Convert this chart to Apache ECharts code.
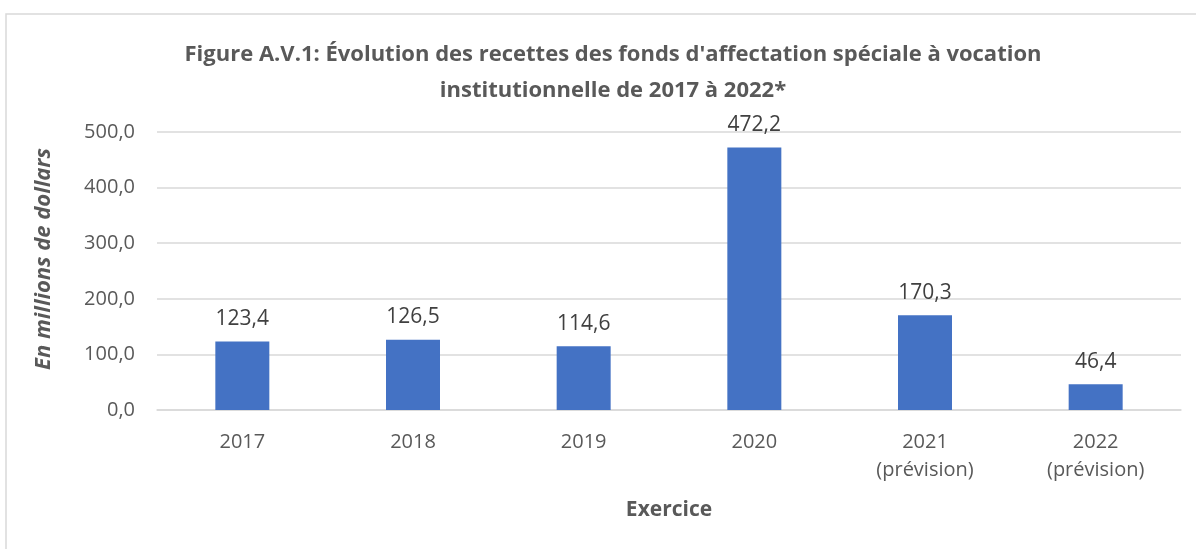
<!DOCTYPE html>
<html>
<head>
<meta charset="utf-8">
<script src="https://cdn.jsdelivr.net/npm/echarts@6/dist/echarts.min.js"></script>
<style>
  html, body { margin: 0; padding: 0; background: #fff; }
  #chart { width: 1196px; height: 549px; }
</style>
</head>
<body>
<div id="chart"></div>
<script>
// données
const categories = ["2017", "2018", "2019", "2020", "2021\n(prévision)", "2022\n(prévision)"];
const recettes = [123.4, 126.5, 114.6, 472.2, 170.3, 46.4];
const yTicks = [0, 100, 200, 300, 400, 500];

const font = "'Open Sans', 'Noto Sans', sans-serif";
const fmt = (v) => v.toFixed(1).replace(".", ",");

const mChart = echarts.init(document.getElementById("chart"));

const options = {
  animation: false,
  textStyle: { fontFamily: font },
  title: {
    text: "Figure A.V.1: Évolution des recettes des fonds d'affectation spéciale à vocation\ninstitutionnelle de 2017 à 2022*",
    left: 608,
    top: 32,
    textAlign: "center",
    textStyle: {
      fontFamily: font,
      fontSize: 22,
      fontWeight: "bold",
      color: "#595959",
      lineHeight: 36,
    },
  },
  // cadre gris clair autour du graphique
  graphic: [
    {
      type: "rect",
      shape: { x: 6, y: 14, width: 1400, height: 700 },
      style: { fill: "none", stroke: "#d9d9d9", lineWidth: 1.5 },
      silent: true,
    },
  ],
  grid: {
    left: 157,
    right: 15,
    top: 132,
    bottom: 139,
  },
  xAxis: {
    type: "category",
    data: categories,
    name: "Exercice",
    nameLocation: "middle",
    nameGap: 90,
    nameTextStyle: { fontSize: 21, fontWeight: "bold", color: "#595959", fontFamily: font },
    axisLine: { lineStyle: { color: "#d9d9d9", width: 1.5 } },
    axisTick: { show: false },
    axisLabel: {
      color: "#595959",
      fontSize: 20,
      margin: 18,
      lineHeight: 28,
      interval: 0,
      fontFamily: font,
    },
  },
  yAxis: {
    type: "value",
    min: 0,
    max: 500,
    interval: 100,
    name: "En millions de dollars",
    nameLocation: "middle",
    nameGap: 102,
    nameTextStyle: {
      fontSize: 22,
      fontWeight: "bold",
      fontStyle: "italic",
      color: "#595959",
      fontFamily: font,
      padding: [0, 0, 0, 24],
    },
    axisLine: { show: false },
    axisTick: { show: false },
    splitLine: { lineStyle: { color: "#d9d9d9", width: 1.5 } },
    axisLabel: {
      color: "#595959",
      fontSize: 20,
      margin: 22,
      fontFamily: font,
      formatter: (v) => (yTicks.includes(v) ? fmt(v) : ""),
    },
  },
  series: [
    {
      type: "bar",
      data: recettes,
      barWidth: 54,
      itemStyle: { color: "#4472c4" },
      label: {
        show: true,
        position: "top",
        distance: 12,
        color: "#404040",
        fontSize: 21,
        fontFamily: font,
        formatter: (p) => fmt(p.value),
      },
    },
  ],
};

mChart.setOption(options);
</script>
</body>
</html>
